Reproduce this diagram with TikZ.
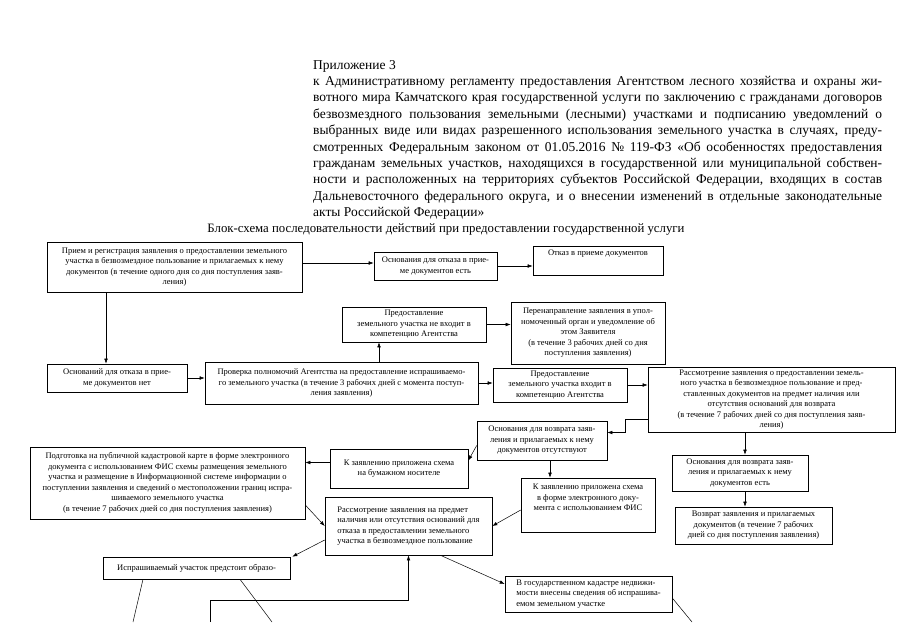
\documentclass[tikz,border=0pt]{standalone}
\usepackage{fontspec}
\setmainfont{Liberation Serif}
\usetikzlibrary{arrows.meta}

\newcommand{\fullline}[1]{{\spaceskip=0pt\xspaceskip=0pt\makebox[569pt][s]{#1}}}

\begin{document}
\begin{tikzpicture}[
  x=1pt, y=-1pt,
  box/.style={
    draw,
    line width=0.6pt,
    align=center,
    inner sep=1.5pt,
    font=\fontsize{8.5}{10.5}\selectfont
  },
  arr/.style={
    -{Latex[length=5pt,width=3.6pt]},
    line width=0.5pt
  },
  link/.style={line width=0.5pt}
]

  \useasboundingbox[fill=white] (0,0) rectangle (905,640);

  % Heading of the appendix.
  \node[anchor=north west, inner sep=0pt, text width=569pt, align=justify,
        font=\fontsize{13.5}{16.4}\selectfont] (head) at (313,60) {%
    Приложение 3\\
    \fullline{к Административному регламенту предоставления Агентством лесного хозяйства и охраны жи-}\\
    \fullline{вотного мира Камчатского края государственной услуги по заключению с гражданами договоров}\\
    \fullline{безвозмездного пользования земельными (лесными) участками и подписанию уведомлений о}\\
    \fullline{выбранных виде или видах разрешенного использования земельного участка в случаях, преду-}\\
    \fullline{смотренных Федеральным законом от 01.05.2016 № 119-ФЗ «Об особенностях предоставления}\\
    \fullline{гражданам земельных участков, находящихся в государственной или муниципальной собствен-}\\
    \fullline{ности и расположенных на территориях субъектов Российской Федерации, входящих в состав}\\
    \fullline{Дальневосточного федерального округа, и о внесении изменений в отдельные законодательные}\\
    акты Российской Федерации»};

  \node[font=\fontsize{12.8}{15}\selectfont] (title) at (446,229)
    {Блок-схема последовательности действий при предоставлении государственной услуги};

  % Boxes of the scheme.
  \node[box, minimum width=255, minimum height=50] (recv) at (174.5,267)
    {Прием и регистрация заявления о предоставлении земельного\\
     участка в безвозмездное пользование и прилагаемых к нему\\
     документов (в течение одного дня со дня поступления заяв-\\
     ления)};
  \node[box, minimum width=123, minimum height=28] (refyes) at (435.5,266)
    {Основания для отказа в прие-\\ме документов есть};
  \node[box, minimum width=130, minimum height=29] (refusal) at (598,260.5)
    {Отказ в приеме документов\\[6pt]};
  \node[box, minimum width=140, minimum height=28] (refno) at (117,378)
    {Оснований для отказа в прие-\\ме документов нет};
  \node[box, minimum width=273, minimum height=42] (check) at (341.5,383)
    {Проверка полномочий Агентства на предоставление испрашиваемо-\\
     го земельного участка (в течение 3 рабочих дней с момента поступ-\\
     ления заявления)};
  \node[box, minimum width=144, minimum height=35] (outside) at (414,324.5)
    {Предоставление\\земельного участка не входит в\\компетенцию Агентства};
  \node[box, minimum width=154, minimum height=62] (redirect) at (588,333)
    {Перенаправление заявления в упол-\\номоченный орган и уведомление об\\
     этом Заявителя\\(в течение 3 рабочих дней со дня\\поступления заявления)};
  \node[box, minimum width=134, minimum height=34] (inside) at (560,385)
    {Предоставление\\земельного участка входит в\\компетенцию Агентства};
  \node[box, minimum width=247, minimum height=65] (review) at (771.5,399.5)
    {Рассмотрение заявления о предоставлении земель-\\
     ного участка в безвозмездное пользование и пред-\\
     ставленных документов на предмет наличия или\\
     отсутствия оснований для возврата\\
     (в течение 7 рабочих дней со дня поступления заяв-\\
     ления)};
  \node[box, minimum width=130, minimum height=39] (retno) at (542,440.5)
    {Основания для возврата заяв-\\ления и прилагаемых к нему\\документов отсутствуют};
  \node[box, minimum width=136, minimum height=36] (retyes) at (740,473)
    {Основания для возврата заяв-\\ления и прилагаемых к нему\\документов есть};
  \node[box, minimum width=157, minimum height=37] (giveback) at (753.5,525.5)
    {Возврат заявления и прилагаемых\\документов (в течение 7 рабочих\\
     дней со дня поступления заявления)};
  \node[box, minimum width=134, minimum height=54] (elec) at (588,505)
    {К заявлению приложена схема\\в форме электронного доку-\\мента с использованием ФИС\\[5pt]};
  \node[box, minimum width=138, minimum height=39] (paper) at (399,468.5)
    {К заявлению приложена схема\\на бумажном носителе};
  \node[box, minimum width=275, minimum height=72] (prep) at (167.5,483)
    {Подготовка на публичной кадастровой карте в форме электронного\\
     документа с использованием ФИС схемы размещения земельного\\
     участка и размещение в Информационной системе информации о\\
     поступлении заявления и сведений о местоположении границ испра-\\
     шиваемого земельного участка\\
     (в течение 7 рабочих дней со дня поступления заявления)};
  \node[box, align=left, minimum width=167, minimum height=58] (decide) at (408.5,526)
    {Рассмотрение заявления на предмет\\наличия или отсутствия оснований для\\
     отказа в предоставлении земельного\\участка в безвозмездное пользование};
  \node[box, minimum width=187, minimum height=22] (form) at (196.5,568)
    {Испрашиваемый участок предстоит образо-};
  \node[box, align=left, minimum width=167, minimum height=36] (cadastre) at (588.5,594)
    {В государственном кадастре недвижи-\\мости внесены сведения об испрашива-\\
     емом земельном участке};

  % Loose ends at the lower edge of the page.
  \coordinate (cutA) at (133,622);
  \coordinate (cutB) at (210,622);
  \coordinate (cutC) at (272,622);
  \coordinate (cutD) at (692,622);

  % Connectors.
  \draw[arr] ([yshift=4pt]recv.east) -- ([yshift=4pt]recv.east -| refyes.west);
  \draw[arr] (refyes.east) -- (refyes.east -| refusal.west);
  \draw[arr] ([xshift=-11pt]refno.north |- recv.south) -- ([xshift=-11pt]refno.north);
  \draw[arr] (refno.east) -- (refno.east -| check.west);
  \draw[arr] ([xshift=-35pt]outside.south |- check.north) -- ([xshift=-35pt]outside.south);
  \draw[arr] (outside.east) -- (outside.east -| redirect.west);
  \draw[arr] (check.east) -- (check.east -| inside.west);
  \draw[arr] (inside.east) -- (inside.east -| review.west);
  \draw[arr] ([yshift=-20pt]review.west) -- ++(-22,0) |- ([yshift=8pt]retno.east);
  \draw[arr] ([xshift=5pt]retyes.north |- review.south) -- ([xshift=5pt]retyes.north);
  \draw[arr] ([xshift=5pt]retyes.south) -- ([xshift=5pt]retyes.south |- giveback.north);
  \draw[arr] ([xshift=8pt]retno.south) -- ([xshift=8pt]retno.south |- elec.north);
  \draw[arr] ([yshift=-5pt]retno.west) -- ([yshift=8pt]paper.east);
  \draw[arr] ([yshift=6pt]paper.west) -- ([yshift=6pt]paper.west -| prep.east);
  \draw[arr] ([yshift=-22pt]prep.east) -- (decide.west);
  \draw[arr] ([yshift=-5pt]elec.west) -- (decide.east);
  \draw[arr] ([yshift=-14pt]decide.west) -- ([xshift=2pt]form.north east);
  \draw[arr] ([xshift=32pt]decide.south) -- ([yshift=10pt]cadastre.west);
  \draw[arr] (cutB) -- (210,600) -| (decide.south);
  \draw[link] ([xshift=-53.5pt]form.south) -- (cutA);
  \draw[link] ([xshift=43.5pt]form.south) -- (cutC);
  \draw[link] ([yshift=-4pt]cadastre.east) -- (cutD);

\end{tikzpicture}
\end{document}
